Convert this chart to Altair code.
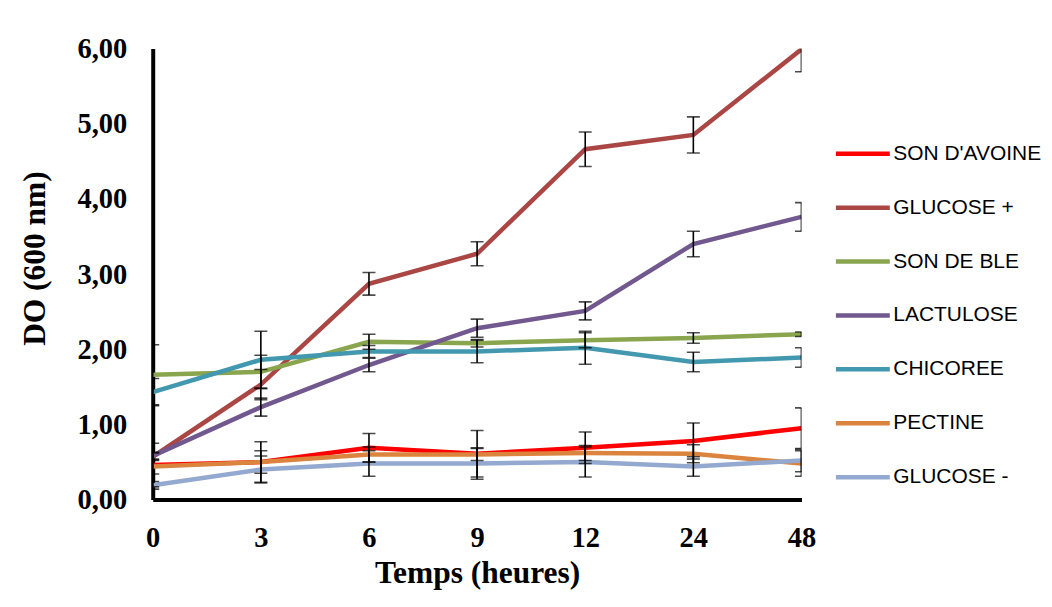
import altair as alt
import pandas as pd

hours = ["0", "3", "6", "9", "12", "24", "48"]
series = ["SON D'AVOINE", "GLUCOSE +", "SON DE BLE", "LACTULOSE", "CHICOREE", "PECTINE", "GLUCOSE -"]
colors = ["#FF0000", "#AA4643", "#89A54E", "#71588F", "#4198AF", "#DB843D", "#93A9CF"]

son_avoine = [0.46, 0.50, 0.69, 0.61, 0.69, 0.78, 0.95]
glucose_plus = [0.57, 1.53, 2.87, 3.27, 4.66, 4.85, 5.99]
son_ble = [1.66, 1.70, 2.10, 2.08, 2.12, 2.15, 2.20]
lactulose = [0.58, 1.23, 1.79, 2.28, 2.51, 3.40, 3.76]
chicoree = [1.43, 1.86, 1.97, 1.97, 2.02, 1.83, 1.89]
pectine = [0.44, 0.50, 0.60, 0.60, 0.62, 0.61, 0.48]
glucose_minus = [0.19, 0.40, 0.48, 0.48, 0.50, 0.44, 0.52]

err_son_avoine = [0.29, 0.27, 0.19, 0.31, 0.21, 0.24, 0.27]
err_glucose_plus = [0.05, 0.20, 0.15, 0.16, 0.23, 0.24, 0.30]
err_son_ble = [0.40, 0.22, 0.10, 0.05, 0.10, 0.07, 0.03]
err_lactulose = [0.05, 0.12, 0.09, 0.12, 0.12, 0.17, 0.19]
err_chicoree = [0.18, 0.38, 0.08, 0.15, 0.22, 0.13, 0.13]
err_pectine = [0.10, 0.15, 0.10, 0.08, 0.10, 0.12, 0.17]
err_glucose_minus = [0.05, 0.18, 0.17, 0.21, 0.20, 0.13, 0.15]

values = [son_avoine, glucose_plus, son_ble, lactulose, chicoree, pectine, glucose_minus]
errors = [err_son_avoine, err_glucose_plus, err_son_ble, err_lactulose, err_chicoree, err_pectine, err_glucose_minus]

rows = []
for si, name in enumerate(series):
    for hi, h in enumerate(hours):
        v = values[si][hi]
        e = errors[si][hi]
        rows.append({"serie": name, "order": si, "temps": h, "do": v, "lo": v - e, "hi": v + e})
df = pd.DataFrame(rows)

x_enc = alt.X("temps:O", sort=hours,
              scale=alt.Scale(type="point", padding=0),
              axis=alt.Axis(title="Temps (heures)", labelAngle=0, ticks=False,
                            labelPadding=24, titlePadding=6))
y_scale = alt.Scale(domain=[0, 6], nice=False)

lines = alt.Chart(df).mark_line(strokeWidth=4.5, clip=True).encode(
    x=x_enc,
    y=alt.Y("do:Q", scale=y_scale,
            axis=alt.Axis(title="DO (600 nm)", values=[0, 1, 2, 3, 4, 5, 6], ticks=False,
                          grid=False, labelPadding=26,
                          titleX=-117, titleY=210, titleAlign="center",
                          titleBaseline="middle", titleAngle=-90,
                          labelExpr="replace(format(datum.value, '.2f'), '.', ',')")),
    color=alt.Color("serie:N", scale=alt.Scale(domain=series, range=colors),
                    legend=alt.Legend(title=None, orient="none", legendX=682, legendY=76,
                                      symbolType="stroke", symbolSize=2916,
                                      symbolStrokeWidth=4.5, rowPadding=14,
                                      labelOffset=1, padding=0)),
    order=alt.Order("order:Q"),
)

bars = alt.Chart(df).mark_rule(color="black", strokeWidth=1.6, clip=True).encode(
    x=alt.X("temps:O", sort=hours),
    y="lo:Q",
    y2="hi:Q",
)

caps_lo = alt.Chart(df).mark_tick(color="black", thickness=1.6, size=13, clip=True).encode(
    x=alt.X("temps:O", sort=hours),
    y="lo:Q",
)
caps_hi = alt.Chart(df).mark_tick(color="black", thickness=1.6, size=13, clip=True).encode(
    x=alt.X("temps:O", sort=hours),
    y="hi:Q",
)

chart = alt.layer(lines, bars, caps_lo, caps_hi).properties(
    width=650, height=452,
    autosize=alt.AutoSizeParams(type="none"),
    padding={"left": 145, "top": 40, "right": 243, "bottom": 95},
).configure_view(stroke=None).configure_axis(
    domainColor="black", domainWidth=4,
    labelFont="Liberation Serif", labelFontSize=28.5, labelFontWeight="bold", labelColor="black",
    titleFont="Liberation Serif", titleFontSize=31.5, titleFontWeight="bold", titleColor="black",
).configure_legend(
    labelFont="Liberation Sans", labelFontSize=21, labelColor="black", labelLimit=300,
)

chart.save("out.html", embed_options={"renderer": "svg", "actions": False})
